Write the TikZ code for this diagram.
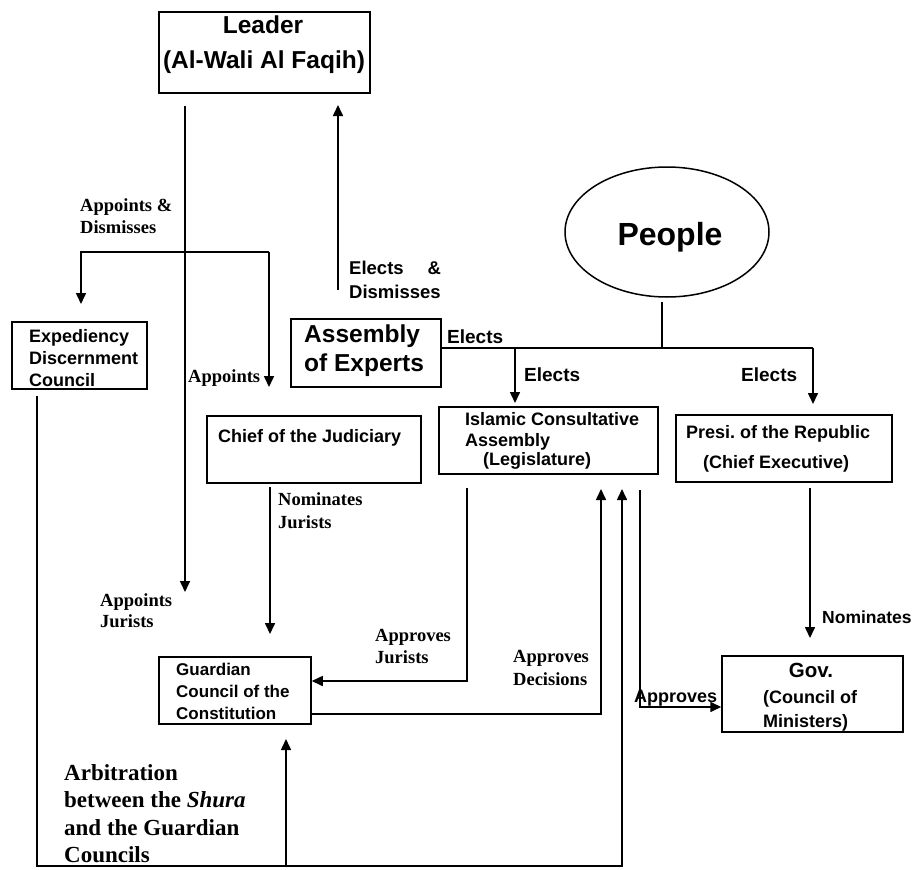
\documentclass[tikz,border=0pt]{standalone}
\usepackage{fontspec}
\setmainfont{Liberation Serif}
\setsansfont{Liberation Sans}
\usetikzlibrary{arrows.meta,shapes.geometric}
\frenchspacing
\begin{document}
\begin{tikzpicture}[x=1pt,y=-1pt,
  box/.style={draw,line width=1.5pt,inner sep=0pt},
  con/.style={line width=1.6pt},
  arr/.style={con,-{Triangle[length=11pt,width=10pt]}},
  sf/.style={font=\sffamily\bfseries\fontsize{18}{22}\selectfont,inner sep=0pt,anchor=base west},
  sfbig/.style={font=\sffamily\bfseries\fontsize{24.5}{28}\selectfont,inner sep=0pt,anchor=base west},
  lab/.style={font=\sffamily\bfseries\fontsize{19}{22}\selectfont,inner sep=0pt,anchor=base west},
  rm/.style={font=\rmfamily\bfseries\fontsize{18.5}{22}\selectfont,inner sep=0pt,anchor=base west},
  rmbig/.style={font=\rmfamily\bfseries\fontsize{23}{27}\selectfont,inner sep=0pt,anchor=base west}]
\useasboundingbox (0,0) rectangle (913,870);
\fill[white] (0,0) rectangle (913,870);

% ---- boxes
\node[box,minimum width=211pt,minimum height=81pt] (leader) at (264.5,52.5) {};
\node[box,minimum width=135pt,minimum height=67pt] (expd) at (79.5,355.5) {};
\node[box,minimum width=150pt,minimum height=68pt] (aoe) at (366,353) {};
\node[box,minimum width=214pt,minimum height=67pt] (chief) at (314,449.5) {};
\node[box,minimum width=219pt,minimum height=67pt] (ica) at (548.5,440.5) {};
\node[box,minimum width=216pt,minimum height=67pt] (presi) at (784,448.5) {};
\node[box,minimum width=152pt,minimum height=67pt] (guard) at (235,690.5) {};
\node[box,minimum width=181pt,minimum height=76pt] (gov) at (812.5,694) {};
\node[draw,ellipse,line width=1.5pt,minimum width=204pt,minimum height=130pt,inner sep=0pt] (people) at (667,232) {};

% ---- box texts
\node[sfbig,anchor=base] (tLeader) at (263,33) {Leader};
\node[sfbig,anchor=base] (tWali) at (264,68) {(Al-Wali Al Faqih)};
\node[font=\sffamily\bfseries\fontsize{32}{36}\selectfont,inner sep=0pt,anchor=base] (tPeople) at (670,245) {People};
\node[sfbig] (tAoe1) at (304,342) {Assembly};
\node[sfbig] (tAoe2) at (304,371) {of Experts};
\node[sf] (tExp1) at (29,342) {Expediency};
\node[sf] (tExp2) at (29,364) {Discernment};
\node[sf] (tExp3) at (29,386.5) {Council};
\node[sf] (tChief) at (218,442) {Chief of the Judiciary};
\node[sf] (tIca1) at (465,425) {Islamic Consultative};
\node[sf] (tIca2) at (465,446) {Assembly};
\node[sf] (tIca3) at (483,465) {(Legislature)};
\node[sf] (tPre1) at (686,438) {Presi. of the Republic};
\node[sf] (tPre2) at (703,468) {(Chief Executive)};
\node[sf,font=\sffamily\bfseries\fontsize{17}{20}\selectfont] (tGc1) at (176,675) {Guardian};
\node[sf,font=\sffamily\bfseries\fontsize{17}{20}\selectfont] (tGc2) at (176,697) {Council of the};
\node[sf,font=\sffamily\bfseries\fontsize{17}{20}\selectfont] (tGc3) at (176,719) {Constitution};
\node[sf,font=\sffamily\bfseries\fontsize{20.5}{24}\selectfont,anchor=base] (tGov1) at (811,677) {Gov.};
\node[sf] (tGov2) at (763,703) {(Council of};
\node[sf] (tGov3) at (763,727) {Ministers)};

% ---- labels
\node[rm] (lAD1) at (80,211) {Appoints \&};
\node[rm] (lAD2) at (80,233) {Dismisses};
\node[sf,font=\sffamily\bfseries\fontsize{18.5}{22}\selectfont] (lED1) at (349,274) {Elects\hspace{24pt}\&};
\node[sf,font=\sffamily\bfseries\fontsize{18.5}{22}\selectfont] (lED2) at (349,298) {Dismisses};
\node[lab] (lEl1) at (447,343) {Elects};
\node[lab] (lEl2) at (524,381) {Elects};
\node[lab] (lEl3) at (741,381) {Elects};
\node[rm] (lApp) at (188,382) {Appoints};
\node[rm] (lNJ1) at (278,505) {Nominates};
\node[rm] (lNJ2) at (278,528) {Jurists};
\node[rm] (lAJ1) at (100,606) {Appoints};
\node[rm] (lAJ2) at (100,627) {Jurists};
\node[rm] (lPJ1) at (375,641) {Approves};
\node[rm] (lPJ2) at (375,663) {Jurists};
\node[rm] (lPD1) at (513,662) {Approves};
\node[rm] (lPD2) at (513,685) {Decisions};
\node[sf] (lApv) at (634,702) {Approves};
\node[sf,font=\sffamily\bfseries\fontsize{17.5}{20}\selectfont] (lNom) at (822,623) {Nominates};
\node[rmbig] (lAr1) at (64,780) {Arbitration};
\node[rmbig] (lAr2) at (64,807.5) {between the \textit{Shura}};
\node[rmbig] (lAr3) at (64,835) {and the Guardian};
\node[rmbig] (lAr4) at (64,862) {Councils};

% ---- connector points
\coordinate (a1) at (185,106);
\coordinate (a2) at (185,592);
\coordinate (b1) at (81,252);
\coordinate (b2) at (269,252);
\coordinate (b3) at (81,304);
\coordinate (b4) at (269,387);
\coordinate (e1) at (338,290);
\coordinate (e2) at (338,105);
\coordinate (p1) at (662,302);
\coordinate (p2) at (662,348);
\coordinate (p3) at (813,348);
\coordinate (p4) at (515,348);
\coordinate (p5) at (515,403);
\coordinate (p6) at (813,404);
\coordinate (n1) at (270,487);
\coordinate (n2) at (270,634);
\coordinate (j1) at (467,488);
\coordinate (j2) at (467,681);
\coordinate (d1) at (601,714);
\coordinate (d2) at (601,489);
\coordinate (r1) at (37,396);
\coordinate (r2) at (37,866);
\coordinate (r3) at (622,866);
\coordinate (r4) at (622,489);
\coordinate (r5) at (286,866);
\coordinate (r6) at (286,739);
\coordinate (v1) at (640,490);
\coordinate (v2) at (640,707);
\coordinate (m1) at (810,488);
\coordinate (m2) at (810,638);

% ---- connectors
\draw[arr] (a1) -- (a2);
\draw[arr] (b2) -- (b1) -- (b3);
\draw[arr] (b2) -- (b4);
\draw[arr] (e1) -- (e2);
\draw[con] (p1) -- (p2);
\draw[con] (aoe.east |- p2) -- (p3);
\draw[arr] (p4) -- (p5);
\draw[arr] (p3) -- (p6);
\draw[arr] (n1) -- (n2);
\draw[arr] (j1) -- (j2) -- (guard.east |- j2);
\draw[arr] (guard.east |- d1) -- (d1) -- (d2);
\draw[arr] (r1) -- (r2) -- (r3) -- (r4);
\draw[arr] (r5) -- (r6);
\draw[arr] (v1) -- (v2) -- (gov.west |- v2);
\draw[arr] (m1) -- (m2);
\end{tikzpicture}
\end{document}
